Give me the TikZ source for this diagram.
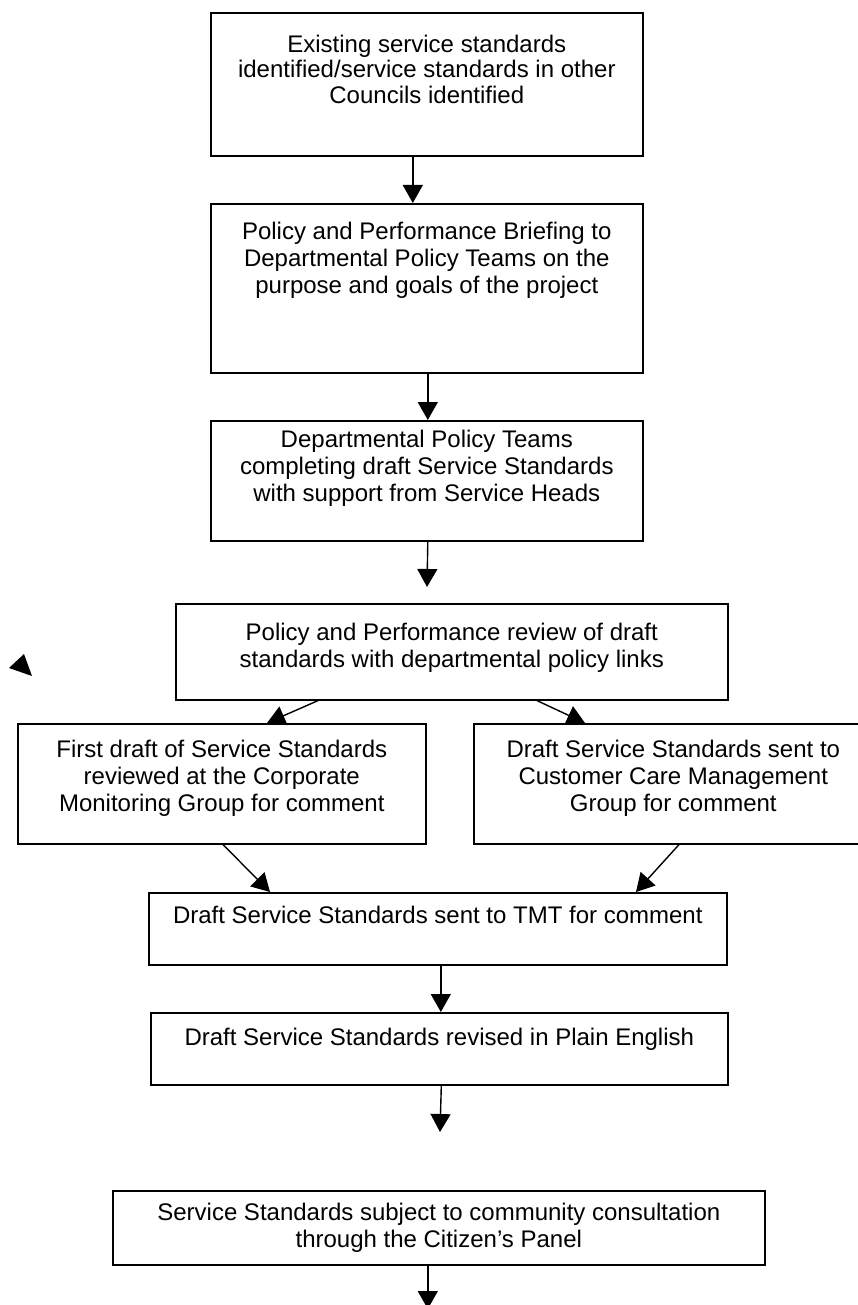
\documentclass[tikz,border=0pt]{standalone}
\usepackage{fontspec}
\setmainfont{Liberation Sans}
\usetikzlibrary{arrows.meta}
\newcommand{\bt}[4]{\parbox[c][#2pt][t]{#1pt}{\centering\vspace*{#3pt}\strut #4}}
\begin{document}
\begin{tikzpicture}[x=1pt,y=1pt,
  stepbox/.style={draw, line width=1.6pt, inner sep=0pt, anchor=north west, font=\fontsize{24}{27}\selectfont},
  arr/.style={line width=1.4pt, -{Triangle[length=18pt,width=20pt]}}]
\useasboundingbox (0,0) rectangle (858,-1305);
\node[stepbox, font=\fontsize{24}{25.5}\selectfont] (b1) at (210,-12) {\bt{432}{143}{21.5}{Existing service standards\\identified/service standards in other\\Councils identified}};
\node[stepbox] (b2) at (210,-203) {\bt{432}{169}{17.1}{Policy and Performance Briefing to\\Departmental Policy Teams on the\\purpose and goals of the project}};
\node[stepbox] (b3) at (210,-420) {\bt{432}{120}{8.1}{Departmental Policy Teams\\completing draft Service Standards\\with support from Service Heads}};
\node[stepbox] (b4) at (175,-603) {\bt{552}{96}{18.1}{Policy and Performance review of draft\\standards with departmental policy links}};
\node[stepbox] (b5) at (17,-723) {\bt{408}{120}{15.1}{First draft of Service Standards\\reviewed at the Corporate\\Monitoring Group for comment}};
\node[stepbox] (b6) at (473,-723) {\bt{399}{120}{15.1}{Draft Service Standards sent to\\Customer Care Management\\Group for comment}};
\node[stepbox] (b7) at (148,-892) {\bt{578}{72}{12.1}{Draft Service Standards sent to TMT for comment}};
\node[stepbox] (b8) at (150,-1012) {\bt{577}{72}{14.1}{Draft Service Standards revised in Plain English}};
\node[stepbox] (b9) at (112,-1190) {\bt{652}{74}{11.1}{Service Standards subject to community consultation\\through the Citizen's Panel}};
\coordinate (c3) at (427,-587);
\coordinate (c8) at (440,-1132);
\coordinate (c9) at (427,-1309);
\draw[arr] ([xshift=-14pt]b1.south) -- ([xshift=-14pt]b2.north);
\draw[arr] ([xshift=1pt]b2.south) -- ([xshift=1pt]b3.north);
\draw[arr] ([xshift=1pt]b3.south) -- (c3);
\draw[arr] ([xshift=143pt]b4.south west) -- ([xshift=250pt]b5.north west);
\draw[arr] ([xshift=362pt]b4.south west) -- ([xshift=112pt]b6.north west);
\draw[arr] ([xshift=206pt]b5.south west) -- ([xshift=122pt]b7.north west);
\draw[arr] ([xshift=206pt]b6.south west) -- ([xshift=488pt]b7.north west);
\draw[arr] ([xshift=3pt]b7.south) -- ([xshift=3pt]b7.south |- b8.north);
\draw[arr] ([xshift=2pt]b8.south) -- (c8);
\draw[arr] ([xshift=-11pt]b9.south) -- ([xshift=-11pt]b9.south |- c9);
\fill (9,-668) -- (24,-654) -- (32,-676) -- cycle;
\end{tikzpicture}
\end{document}
